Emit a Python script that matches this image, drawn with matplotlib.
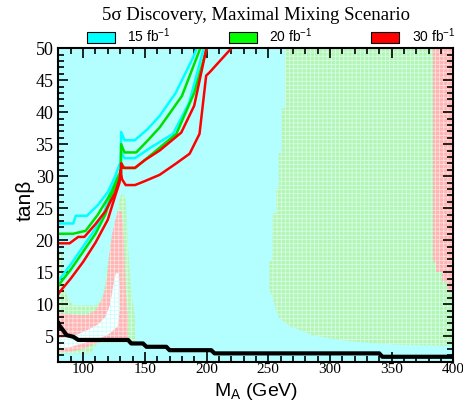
import numpy as np
import matplotlib
matplotlib.use("Agg")
import matplotlib.pyplot as plt
from matplotlib.patches import Patch
from matplotlib.ticker import MultipleLocator

plt.rcParams['mathtext.default'] = 'regular'
plt.rcParams['hatch.linewidth'] = 0.6

# --- data (M_A in GeV, tan beta) ---
lumis = ['15 fb$^{-1}$', '20 fb$^{-1}$', '30 fb$^{-1}$']

# upper branches of the contours
cyan_hi_ma = [80, 92, 94, 103, 112, 120, 126, 129.5, 130.5, 130.8, 133.5, 141.8, 152, 162, 175, 189, 193]
cyan_hi_tb = [22.6, 22.6, 23.8, 23.8, 25.5, 27.5, 30, 31.8, 32.2, 36.9, 35.6, 35.6, 37.3, 39.4, 43, 48.5, 50.5]
green_hi_ma = [80, 92, 102, 112, 123, 128, 130.5, 130.8, 133.5, 143, 152, 162, 180, 196]
green_hi_tb = [21.0, 21.0, 21.45, 24, 27.5, 29.8, 30.8, 35.0, 33.7, 33.7, 35.5, 37.6, 42.5, 50.5]
red_hi_ma = [80, 89, 96, 101, 110, 118, 125.7, 129.5, 130.5, 130.8, 132.5, 142, 150, 162, 179.5, 190, 200.5]
red_hi_tb = [19.5, 19.5, 20.5, 20.5, 22.5, 24.5, 27.3, 29.5, 30, 32.0, 31.3, 31.3, 32.5, 34, 36.8, 41, 50.5]

# lower branches
cyan_lo_ma = [80, 81, 90, 100, 110, 117, 121.7, 127, 130.5, 130.8, 133.5, 142, 155, 172.8, 186, 198.4]
cyan_lo_tb = [13.6, 13.9, 16.2, 19.0, 21.8, 24.2, 27.3, 29.5, 30.5, 33.8, 32.8, 32.8, 34.5, 36.6, 41.5, 50.5]
green_lo_ma = [80, 81, 90, 100, 110, 118, 123.6, 128, 130.8, 131, 133.5, 142, 158, 175.5, 190, 201]
green_lo_tb = [12.9, 13.2, 15.4, 18.2, 21.0, 24.0, 27.3, 29.5, 30.5, 32, 31.25, 31.25, 33.8, 36.6, 43, 50.5]
red_lo_ma = [80, 81, 90, 100, 110, 120, 126.6, 129.5, 130.3, 131.5, 134.5, 142, 148.5, 162, 175.5, 186.3,
             194.3, 199.7, 202.4, 222.6]
red_lo_tb = [11.6, 11.9, 14.0, 16.6, 19.6, 23.2, 27.3, 29, 30.9, 29.5, 28.6, 28.6, 29.1, 30.2, 32, 33.5,
             36.6, 45.7, 46.2, 50.5]

# LEP limit (black)
lep_ma = [80, 80.5, 82.6, 86.6, 92, 96, 136.4, 139, 148.5, 151.3, 167.4, 170, 203.8, 206.5, 340, 342.5, 400]
lep_tb = [7.0, 6.7, 6.2, 5.15, 4.9, 4.4, 4.4, 3.85, 3.85, 3.33, 3.33, 2.8, 2.8, 2.3, 2.3, 1.77, 1.77]

# shaded regions (20 fb-1 green, 30 fb-1 pink, none white)
green_u_ma = [80, 83, 83.5, 86, 88, 92, 110, 114, 116, 117.6, 120.3, 122.5, 125, 127.5, 129.5, 131,
              133, 134.5, 135.5, 137, 139.5, 142, 142, 112, 106, 80]
green_u_tb = [18.2, 18.2, 13, 11.8, 10.8, 9.8, 9.8, 10.5, 11.5, 13, 16.9, 19.5, 22, 24.2, 26.3, 27.2,
              27.2, 26.3, 22, 16.9, 11.1, 8, 4.0, 4.0, 2.3, 2.3]
pink_u_ma = [80, 92, 104, 110, 115, 117.5, 119.5, 121.5, 123.5, 126, 128, 131, 132.5, 133.5, 134.5, 136,
             136, 120, 110, 100, 90, 80]
pink_u_tb = [8.6, 8.3, 8.3, 9.0, 10.5, 12, 14, 18, 21, 23, 24.5, 24.5, 21, 17, 12, 8,
             4.4, 4.3, 3.9, 3.0, 2.6, 2.6]
white_u_ma = [80, 88, 96, 104, 112, 118, 122, 124.5, 126.5, 129, 129.5, 129.5, 128, 120, 110, 100, 90, 80]
white_u_tb = [4.7, 4.8, 5.3, 6.0, 6.8, 8.0, 10, 13, 14.8, 14.8, 12, 9, 6.5, 5.2, 4.4, 3.9, 3.3, 3.1]
green_r_ma = [263.5, 263.5, 261, 261, 258.5, 258.5, 256.3, 256.3, 253.6, 253.6, 251, 251, 253.6, 256.3,
              259, 268.4, 276.5, 285.9, 300.8, 321, 361.4, 400, 400]
green_r_tb = [50, 40.6, 40.6, 33.6, 33.6, 28.1, 28.1, 24.2, 24.2, 16.9, 16.9, 12.2, 11.1, 9.1,
              7.8, 6.45, 5.9, 5.16, 4.6, 4.1, 3.6, 3.5, 50]
pink_r_ma = [383.4, 383.4, 386, 386, 391, 391, 395, 395, 398, 398, 400, 400]
pink_r_tb = [50, 16.6, 16.6, 15, 15, 13.5, 13.5, 12.2, 12.2, 11.5, 11.5, 50]

bg_cyan = '#b3ffff'
lt_green = '#b4f4b4'
lt_pink = '#ffb4b4'

fig = plt.figure(figsize=(4.64, 4.01), dpi=100)
ax = fig.add_axes([0.126, 0.098, 0.851, 0.782])
ax.set_facecolor(bg_cyan)

ax.fill(green_u_ma, green_u_tb, facecolor=lt_green, edgecolor='#d4ffe4', hatch='++++', linewidth=0)
ax.fill(pink_u_ma, pink_u_tb, facecolor=lt_pink, edgecolor='#ffdede', hatch='++++', linewidth=0)
ax.fill(white_u_ma, white_u_tb, facecolor='white', edgecolor='#c8ffff', hatch='++++', linewidth=0)
ax.fill(green_r_ma, green_r_tb, facecolor=lt_green, edgecolor='#d4ffe4', hatch='++++', linewidth=0)
ax.fill(pink_r_ma, pink_r_tb, facecolor=lt_pink, edgecolor='#ffdede', hatch='++++', linewidth=0)

lw = 1.8
ax.plot(cyan_hi_ma, cyan_hi_tb, color='#00ffff', lw=lw)
ax.plot(cyan_lo_ma, cyan_lo_tb, color='#00ffff', lw=lw)
ax.plot(green_hi_ma, green_hi_tb, color='#00e000', lw=lw)
ax.plot(green_lo_ma, green_lo_tb, color='#00e000', lw=lw)
ax.plot(red_hi_ma, red_hi_tb, color='#ff0000', lw=lw)
ax.plot(red_lo_ma, red_lo_tb, color='#ff0000', lw=lw)
ax.plot(lep_ma, lep_tb, color='black', lw=3)

ax.set_xlim(80, 400)
ax.set_ylim(1, 50)
ax.xaxis.set_major_locator(MultipleLocator(50))
ax.xaxis.set_minor_locator(MultipleLocator(10))
ax.yaxis.set_major_locator(MultipleLocator(5))
ax.yaxis.set_minor_locator(MultipleLocator(1))
ax.tick_params(which='both', direction='in', top=True, right=True, width=1.2)
ax.tick_params(which='major', length=7)
ax.tick_params(which='minor', length=4)
ax.tick_params(axis='x', which='major', pad=1)
for lab in ax.get_xticklabels():
    lab.set_fontfamily('Liberation Serif')
    lab.set_fontsize(11)
for lab in ax.get_yticklabels():
    lab.set_fontfamily('Liberation Serif')
    lab.set_fontsize(13)
for s in ax.spines.values():
    s.set_linewidth(1.5)

ax.set_xlabel('M$_A$ (GeV)', fontsize=14, family='Liberation Sans', va='baseline')
ax.xaxis.set_label_coords(0.5, -0.110)
ax.set_ylabel('tan\u03b2', fontsize=15, family='Liberation Sans', va='center')
ax.yaxis.set_label_coords(-0.085, 0.515)

fig.text(256 / 464, 1 - 16 / 401, '5\u03c3 Discovery, Maximal Mixing Scenario',
         ha='center', va='center', fontsize=13.5, family='Liberation Serif')

handles = [Patch(facecolor=c, edgecolor='black', linewidth=0.8) for c in ['#00ffff', '#00ff00', '#ff0000']]
fig.legend(handles, lumis, loc='center', bbox_to_anchor=(271 / 464, 1 - 36 / 401), ncol=3,
           frameon=False, prop={'family': 'Liberation Sans', 'size': 10},
           handlelength=2.0, handleheight=0.8, handletextpad=0.9, columnspacing=4.2)

fig.savefig('out.png', dpi=100)
